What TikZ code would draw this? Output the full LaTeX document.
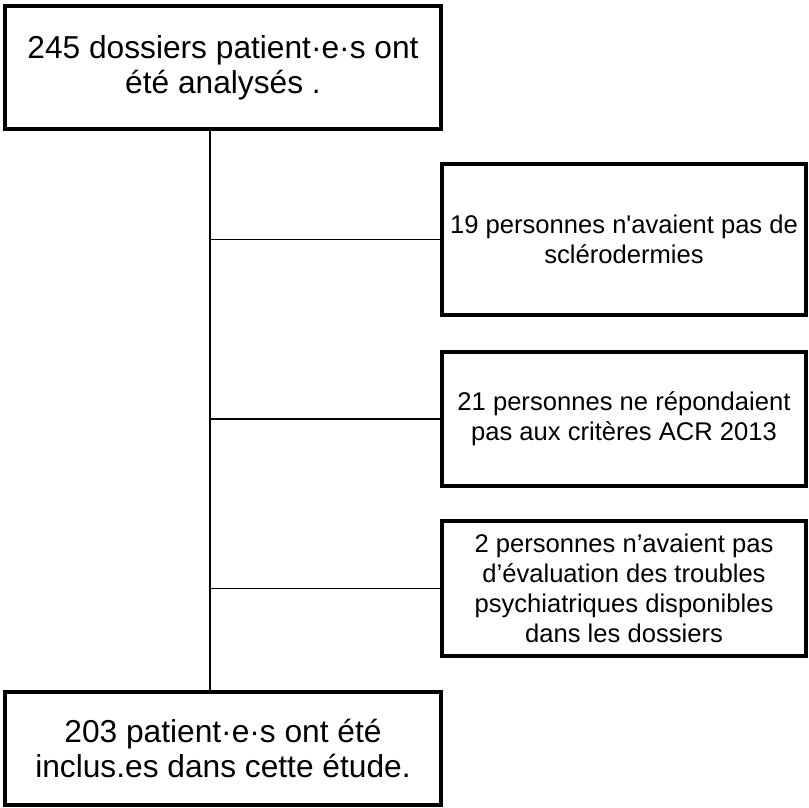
\documentclass[tikz,border=0pt]{standalone}
\usepackage{fontspec}
\setmainfont{Liberation Sans}
\begin{document}
\begin{tikzpicture}[x=1pt,y=-1pt,
  bigbox/.style={draw=black,line width=3.5pt,fill=white,inner sep=0pt,outer sep=0pt,
    minimum width=436pt,align=center,text=black,font=\fontsize{31.7}{35}\selectfont},
  sidebox/.style={draw=black,line width=3.5pt,fill=white,inner sep=0pt,outer sep=0pt,
    minimum width=364pt,align=center,text=black,font=\fontsize{25.6}{29.8}\selectfont},
  trunkline/.style={line width=2.6pt,black},
  branchline/.style={line width=1.5pt,black}]
\useasboundingbox (0,0) rectangle (809,808);
\fill[white] (0,0) rectangle (809,808);
\node[bigbox,minimum height=123pt] (top) at (223,67.5) {245 dossiers patient·e·s ont\\été analysés .};
\node[sidebox,minimum height=151pt] (r1) at (624,239.5) {19 personnes n\textquotesingle avaient pas de\\sclérodermies};
\node[sidebox,minimum height=134pt] (r2) at (624,419) {21 personnes ne répondaient\\pas aux critères ACR 2013};
\node[sidebox,minimum height=135pt] (r3) at (624,588.5) {2 personnes n’avaient pas\\d’évaluation des troubles\\psychiatriques disponibles\\dans les dossiers};
\node[bigbox,minimum height=113pt] (bot) at (223,748.5) {203 patient·e·s ont été\\inclus.es dans cette étude.};
\coordinate (t) at (210,400);
\draw[trunkline] (top.south -| t) -- (bot.north -| t);
\draw[branchline] (r1.west -| t) -- (r1.west);
\draw[branchline] (r2.west -| t) -- (r2.west);
\draw[branchline] (r3.west -| t) -- (r3.west);
\end{tikzpicture}
\end{document}
